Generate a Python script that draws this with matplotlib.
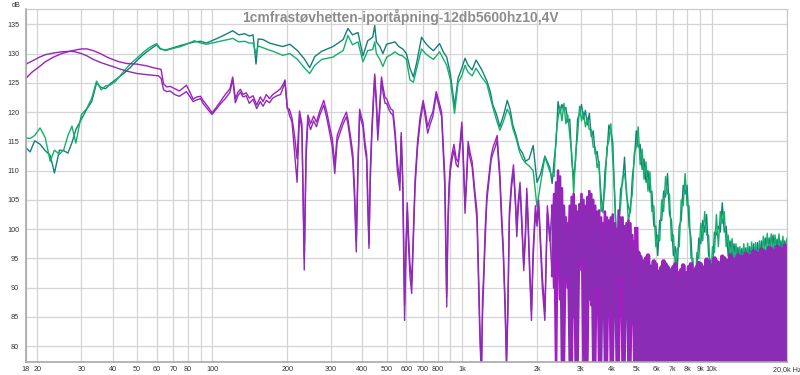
import numpy as np
import matplotlib.pyplot as plt

# --- low / mid band, green measurements (Hz, dB) ---
g_freq1 = [18, 18.7, 19.5, 20.5, 21.5, 22.5, 23.4, 24.5, 25.5, 26.5, 27.5, 28.5, 30, 31.5, 33, 34.5,
           36, 37.5, 39, 41, 44, 47, 50, 53, 56, 60, 62, 65, 70, 75, 80, 85, 90, 95, 100, 105, 110,
           116, 121, 128, 135, 141, 146, 150, 153, 160, 170, 180, 192, 205, 220, 235, 246, 258, 275,
           290, 305, 320, 335, 350, 365, 384, 402, 420, 440, 448, 455, 470, 483, 500, 520, 540, 560]
teal1 = [113.9, 113.2, 115.1, 114.5, 113.4, 112.6, 109.6, 113.5, 113.4, 113.0, 114.8, 117.0, 118.8, 120.5,
         121.8, 125.0, 124.2, 124.0, 124.8, 125.5, 126.5, 127.6, 128.8, 129.8, 130.6, 131.5, 130.8, 130.6,
         131.0, 131.4, 131.7, 132.0, 132.1, 131.8, 132.2, 132.6, 133.0, 133.5, 133.9, 133.2, 133.4, 133.0,
         133.2, 128.2, 132.5, 132.4, 131.8, 131.5, 131.2, 131.6, 130.5, 129.0, 127.6, 129.5, 130.4, 130.8,
         131.2, 131.8, 132.4, 134.3, 133.2, 133.6, 129.6, 132.2, 132.8, 134.8, 132.0, 131.2, 130.0, 131.6,
         131.8, 132.0, 131.2]
green1 = [115.6, 115.5, 116.0, 117.3, 115.6, 111.6, 113.5, 112.8, 113.6, 116.0, 117.6, 114.7, 119.6, 120.6,
          122.4, 125.3, 123.8, 124.5, 124.6, 125.2, 126.8, 128.2, 129.2, 130.2, 131.0, 131.7, 130.9, 130.5,
          130.9, 131.2, 131.7, 132.2, 131.8, 131.6, 131.8, 132.0, 132.2, 132.4, 132.6, 132.0, 132.1, 131.8,
          131.8, 130.0, 131.3, 131.0, 130.6, 130.2, 129.7, 130.0, 129.0, 127.5, 126.6, 128.0, 129.0, 129.2,
          129.4, 130.0, 130.5, 133.1, 131.5, 132.0, 128.6, 130.5, 130.7, 132.0, 130.0, 129.0, 127.8, 129.4,
          129.8, 130.3, 129.8]

g_freq2 = [580, 600, 620, 640, 660, 690, 715, 740, 770, 815, 845, 870, 900, 935, 966, 1000, 1030, 1060,
           1100, 1140, 1200, 1260, 1300, 1330, 1380, 1420, 1470, 1520, 1560, 1600, 1650, 1700, 1750, 1800,
           1860, 1930, 2000, 2070, 2150, 2250]
teal2 = [130.8, 130.0, 127.5, 126.0, 128.5, 132.8, 131.8, 131.1, 130.5, 131.7, 130.2, 129.4, 126.5, 121.0,
         125.8, 127.5, 129.2, 128.0, 127.2, 128.9, 127.3, 125.3, 123.5, 121.3, 119.5, 117.5, 119.5, 122.0,
         120.5, 117.8, 116.0, 113.8, 113.0, 111.6, 112.0, 114.3, 108.0, 109.5, 112.5, 110.5]
green2 = [129.6, 129.0, 125.5, 125.1, 127.5, 130.8, 130.0, 129.5, 129.0, 130.3, 129.0, 128.0, 125.5, 119.8,
          125.0, 126.2, 128.0, 126.8, 126.2, 127.5, 126.0, 124.8, 122.5, 120.9, 118.5, 116.9, 118.5, 120.5,
          119.5, 117.2, 115.5, 113.3, 112.0, 111.3, 110.8, 110.0, 103.8, 108.0, 112.3, 109.9]

# --- low / mid band, purple measurements ---
p_freq1 = [18, 19, 20.4, 21.5, 23.2, 25, 27, 28.3, 30, 31.6, 33.5, 35.7, 38, 40, 42.5, 45.6, 50, 54.8, 58,
           61, 62.5, 64, 66, 68, 71, 74, 77, 79, 82, 84, 87, 90, 92, 96, 100, 104, 108, 113, 118, 121,
           124, 127, 130, 133, 137, 141, 146, 151, 156, 160, 165, 170, 175, 182, 188, 193, 196, 200]
violet1 = [128.2, 128.7, 129.4, 129.8, 130.1, 130.3, 130.4, 130.3, 130.0, 129.6, 129.0, 128.5, 128.1, 127.8,
           127.4, 127.0, 126.6, 126.4, 126.3, 126.2, 125.8, 123.8, 123.5, 123.6, 123.0, 122.7, 123.2, 123.5,
           122.5, 121.8, 122.1, 122.3, 121.5, 120.5, 119.6, 120.5, 121.4, 122.3, 123.4, 125.6, 121.6, 122.8,
           123.4, 122.6, 122.8, 121.5, 122.2, 120.6, 121.8, 121.0, 122.0, 121.6, 122.4, 122.8, 123.0, 124.3,
           125.0, 121.0]
magenta1 = [125.8, 126.8, 127.8, 128.6, 129.4, 130.0, 130.4, 130.6, 130.8, 130.8, 130.5, 130.0, 129.4, 129.0,
            128.6, 128.3, 128.2, 127.9, 127.6, 127.4, 127.3, 124.8, 124.3, 124.4, 124.0, 123.6, 124.2, 124.6,
            123.2, 122.2, 122.6, 122.7, 122.0, 121.0, 119.9, 120.8, 121.8, 123.0, 124.0, 126.0, 122.3, 123.4,
            123.9, 123.0, 123.3, 122.4, 122.8, 121.2, 122.6, 121.8, 123.0, 122.3, 123.0, 123.5, 124.0, 124.8,
            125.5, 120.6]

p_freq2 = [204, 209, 214, 219, 224, 229, 234, 238, 242, 248, 255, 262, 270, 280, 288, 296, 303, 310, 317,
           325, 335, 345, 350, 358, 366, 372, 378, 384, 390, 396, 402, 409, 416, 420, 425, 430, 436, 442,
           448, 455, 461, 469, 477, 485, 493, 500, 510, 520, 530, 540, 552, 565, 572, 580, 585, 590, 597,
           605, 612, 620, 630, 640, 650, 665, 680, 700, 715, 730, 748, 765, 790, 810, 830, 845, 855, 862,
           870, 880, 890, 900, 915, 930, 950, 966, 985, 1000, 1015, 1030, 1045, 1060, 1080, 1100, 1125,
           1150, 1165, 1180, 1192, 1200, 1210, 1225, 1240, 1260, 1290, 1310, 1333, 1360, 1385, 1400, 1420,
           1440, 1465, 1490, 1510, 1530, 1550, 1580, 1610, 1640, 1660, 1680, 1710, 1740, 1770, 1800, 1820,
           1840, 1870, 1900, 1930, 1970, 2000, 2030, 2060, 2100, 2150, 2200, 2250]
violet2 = [119.5, 118.3, 113, 108, 119.5, 117, 93, 112, 118.6, 117, 118.5, 117.5, 119.5, 121.2, 119, 116.4,
           114, 109.5, 115, 116.4, 118, 119.2, 118, 115, 111.8, 105, 96.1, 110, 119.8, 118.5, 117.5, 114,
           111.8, 104, 96.7, 108, 115.8, 121, 126, 121, 115.2, 120, 125.4, 123, 121.5, 121.5, 120.5, 119.8,
           119.5, 116, 110, 106.6, 115.8, 107.2, 96, 84.4, 95, 103.2, 97, 92, 89, 98, 107.2, 114, 118, 121.5,
           119, 116.4, 118, 119.2, 122.9, 121, 119.2, 112, 107.2, 97, 86.7, 100, 107, 110, 112, 113.5, 111,
           110.6, 114, 117.5, 111, 102.7, 108, 114, 112, 110.6, 106, 101.5, 92, 82, 77, 77, 85, 91.3, 98,
           104.9, 109, 111.8, 113, 114, 115.2, 112, 108.4, 102, 95.8, 86, 77, 86, 101.5, 107, 110, 104, 98.7,
           103, 107.2, 100, 92.9, 99, 106, 101, 92, 84.4, 95, 102.7, 100.5, 104, 98, 90, 84.4, 102.7, 98]
magenta2 = [120.5, 119, 116, 112, 120.2, 118, 95, 114, 119.5, 118, 119.3, 118.3, 120.2, 122, 120, 117.5,
            115.5, 111, 116, 117.3, 118.8, 120, 118.8, 116, 113, 107, 98, 111.5, 120.5, 119.2, 118.3, 115,
            112.8, 106, 97.5, 110, 117, 122, 126.5, 122, 116.5, 121, 126, 124, 122.5, 122.3, 121.3, 120.5,
            120.3, 117, 111.5, 108, 116.5, 109, 99, 87, 97, 104.5, 99, 94, 91, 100, 108.5, 115, 119, 122,
            120, 117.5, 119, 120, 123.5, 121.8, 120, 113.5, 109, 99, 88.5, 102, 108, 111, 113, 114.5, 112,
            111.5, 115, 118.3, 112, 104, 109, 115, 113, 111.5, 107, 103, 94, 84, 78, 77, 88, 93, 100, 106,
            110, 112.5, 114, 115, 116, 113, 109.5, 103.5, 97, 88, 77, 88, 103, 108, 111, 105, 100, 104.5,
            108, 101.5, 94, 100.5, 107, 102.5, 93.5, 86, 96.5, 104, 101.5, 105, 99.5, 92, 86, 104, 99]

# --- high band (2.3k - 20k), 121 log spaced bins ---
hf_freq = np.geomspace(2300, 20000, 121)
teal3 = [107.8, 111.8, 114.8, 121.8, 119.8, 121.3, 120.3, 120.8, 118.3, 118.8, 111.8, 108.8, 111.8, 118.8,
         119.8, 121.3, 118.8, 120.3, 117.8, 119.8, 115.8, 116.8, 112.8, 113.3, 110.4, 105.8, 102.8, 109.8,
         112.8, 117.8, 116.8, 114.8, 104.8, 97.8, 99.8, 106.8, 107.8, 112.3, 105.8, 103.8, 102.8, 108.8,
         111.8, 116.8, 114, 114.5, 110.2, 112, 108, 110, 106.3, 106.5, 100.5, 100.5, 95.5, 101.5, 101.5,
         106.5, 105.5, 109.5, 102.5, 101.5, 95.5, 97, 93.2, 100.5, 101.5, 107.5, 106, 107.5, 100.5, 98.5,
         91.5, 92.3, 92.5, 98.5, 97.5, 101.5, 99.5, 102.5, 95.5, 94.5, 93.5, 99.5, 99, 100.5, 99.5, 104.5,
         99.5, 100.5, 95.5, 98, 94.9, 97.5, 94, 96.9, 93.5, 96.7, 94, 96.8, 94.1, 97, 94.3, 97.5, 94.2, 97.7,
         94.5, 98, 95.3, 98.5, 95.8, 98.5, 95.7, 99, 95.5, 98.3, 95.7, 98, 95.3, 98, 94.9]
green3 = [109, 109, 116, 119, 121, 118.5, 121.5, 118, 119.5, 116, 113, 106, 113, 116, 121, 118.5, 120, 117.5,
          119, 117, 117, 114, 114, 110.5, 111.6, 103, 104, 107, 114, 115, 118, 112, 106, 95, 101, 104, 109,
          109.5, 107, 101, 104, 106, 113, 114, 117.5, 111, 113.7, 108.5, 111.5, 106.5, 109.8, 103, 104, 97,
          99, 98, 105, 103, 109, 106, 106, 98, 99, 93.5, 96.7, 97, 105, 104, 109.5, 104, 104, 95, 95, 88.8,
          96, 95, 101, 98, 103, 99, 99, 91, 97, 96, 102.5, 97, 103, 101, 103, 97, 99, 94.5, 98.4, 94, 97.5,
          93.4, 97, 93.2, 97.5, 93.3, 97.6, 93.5, 97.8, 94, 97.7, 94.2, 98, 94.5, 98.8, 95, 99.3, 95, 99.2,
          95.5, 99, 94.8, 99.2, 94.5, 98.8, 94.5, 98.4]
violet3 = [104, 90, 108, 95, 109, 77, 104, 92, 101, 77, 105.5, 85, 104, 77, 104.3, 95, 105, 77, 105.5, 88,
           106, 77, 104, 90, 103.2, 77, 101, 77, 102, 86, 102, 77, 101, 77, 103.2, 92, 102, 77, 101, 77, 101,
           84, 98, 77, 96, 77, 94.5, 77, 95, 77, 93.6, 77, 94.5, 77, 92.5, 77, 93.5, 77, 94, 77, 93, 77, 93.5,
           77, 91.5, 77, 93, 77, 92, 77, 93.5, 77, 92.5, 77, 93.5, 77, 94, 77, 93.5, 77, 94.5, 77, 93.8, 77,
           94.5, 77, 94, 77, 95, 77, 94.5, 77, 95, 77, 94.8, 77, 95.2, 77, 95, 77, 95.5, 77, 95.3, 77, 96, 77,
           95.7, 77, 96.2, 77, 96, 77, 96.5, 77, 96.2, 77, 96.8, 77, 96.3, 77, 96.5]
magenta3 = [92, 106, 77, 110, 88, 107, 77, 102, 90, 104, 77, 106, 77, 103, 93, 106, 77, 104, 77, 106.5, 87,
            105, 77, 103, 77, 102, 89, 103, 77, 101.5, 77, 102.5, 85, 100, 77, 102, 77, 100.5, 88, 101.5, 77,
            99, 77, 100, 77, 95.3, 77, 94, 77, 95.5, 77, 93, 77, 94, 77, 92.8, 77, 94.5, 77, 93.5, 77, 92.8,
            77, 94, 77, 92.5, 77, 93.8, 77, 92.5, 77, 94, 77, 93, 77, 94.2, 77, 93.2, 77, 94.8, 77, 93.5, 77,
            95, 77, 94.2, 77, 95.3, 77, 94.6, 77, 95.5, 77, 94.7, 77, 95.5, 77, 95.2, 77, 95.8, 77, 95.4, 77,
            96.2, 77, 95.8, 77, 96.5, 77, 96, 77, 96.8, 77, 96.3, 77, 97, 77, 96.5, 77, 97.2, 77]

tick_pos = [18, 20, 30, 40, 50, 60, 70, 80, 90, 100, 200, 300, 400, 500, 600, 700, 800, 900,
            1000, 2000, 3000, 4000, 5000, 6000, 7000, 8000, 9000, 10000, 20000]
tick_lab = ['18', '20', '30', '40', '50', '60', '70', '80', '', '100', '200', '300', '400', '500', '600',
            '700', '800', '', '1k', '2k', '3k', '4k', '5k', '6k', '7k', '8k', '9k', '10k', '20,0k Hz']
db_ticks = [80, 85, 90, 95, 100, 105, 110, 115, 120, 125, 130, 135]

title = '1cmfrastøvhetten-iportåpning-12db5600hz10,4V'

g_freq = np.concatenate([g_freq1, g_freq2, hf_freq])
p_freq = np.concatenate([p_freq1, p_freq2, hf_freq])
violet = np.array(violet1 + violet2 + violet3)
magenta = np.array(magenta1 + magenta2 + magenta3)
# the dense high band is drawn with a wider pen so it closes up like the original
h0 = len(p_freq1) + len(p_freq2)
h1 = h0 + 43

fig = plt.figure(figsize=(8, 3.75), dpi=100)
ax = fig.add_axes([0.0325, 0.0347, 0.951, 0.941])

ax.plot(g_freq, teal1 + teal2 + teal3, color='#14807c', lw=1.0)
ax.plot(g_freq, green1 + green2 + green3, color='#12b06a', lw=1.0)
for a, b, w in [(0, h0 + 1, 1.0), (h0, h1 + 1, 1.9), (h1, len(p_freq), 3.2)]:
    ax.plot(p_freq[a:b], magenta[a:b], color='#a61cc4', lw=w)
    ax.plot(p_freq[a:b], violet[a:b], color='#8a2db4', lw=w)

ax.set_xscale('log')
ax.set_xlim(18, 20000)
ax.set_ylim(77.3, 137.6)
ax.set_xticks(tick_pos)
ax.set_xticklabels(tick_lab)
ax.minorticks_off()
ax.set_yticks(db_ticks)
ax.tick_params(length=0, labelsize=5.2, labelcolor='#333333')
ax.tick_params(axis='y', pad=5)
ax.tick_params(axis='x', pad=3)
for lab in ax.get_xticklabels() + ax.get_yticklabels():
    lab.set_family('Liberation Sans')
ax.grid(True, color='#d4d4d4', lw=0.9)
ax.set_axisbelow(True)
for side in ['top', 'right']:
    ax.spines[side].set_color('#c8c8c8')
for side in ['left', 'bottom']:
    ax.spines[side].set_color('#a8a8a8')
    ax.spines[side].set_linewidth(1.2)

fig.text(0.5, 0.955, title, ha='center', va='center', fontsize=10, fontweight='bold',
         color='#8c8c8c', family='Liberation Sans')
fig.text(0.015, 0.985, 'dB', ha='left', va='center', fontsize=5.2, color='#333333',
         family='Liberation Sans')

plt.savefig('out.png', dpi=100)
